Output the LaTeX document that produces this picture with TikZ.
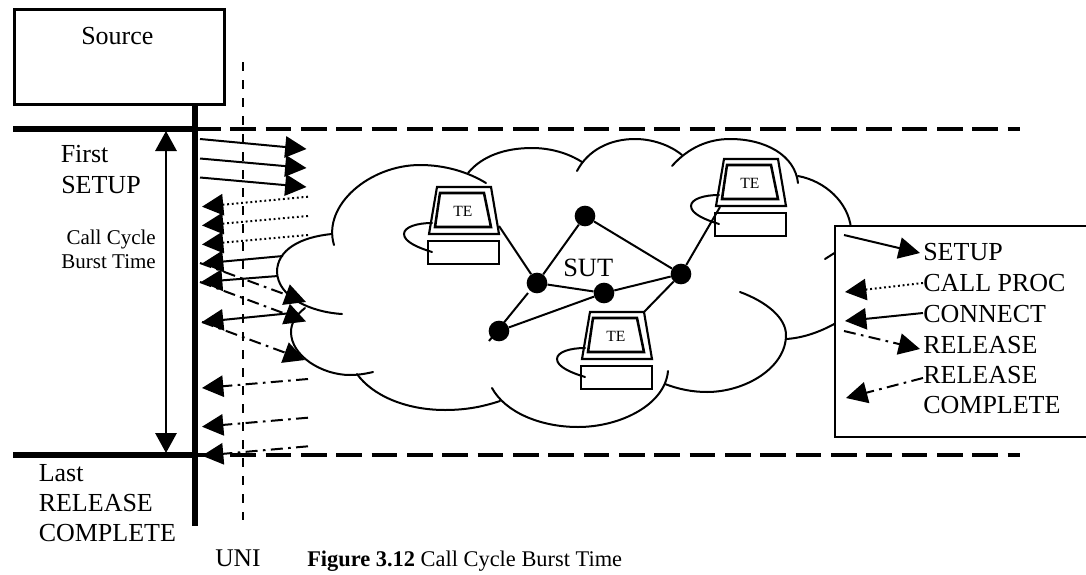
\documentclass[tikz,border=0pt]{standalone}
\usepackage{fontspec}
\setmainfont{Liberation Serif}
\usetikzlibrary{arrows.meta}
\newcommand{\px}[1]{\fontsize{#1}{#1}\selectfont}
\tikzset{
  x=.75pt,y=-.75pt,
  cloudline/.style={line width=1.5pt,line cap=round},
  netline/.style={line width=1.5pt},
  dot/.style={circle,fill=black,inner sep=0pt,minimum size=15.5pt},
  tip/.style={-{Triangle[length=16pt,width=16pt]}},
  sol/.style={line width=1.5pt,tip},
  dotl/.style={line width=1.5pt,tip,dash pattern=on 1.4pt off 2.1pt},
  dashdot/.style={line width=1.5pt,tip,dash pattern=on 9pt off 4pt on 2pt off 4pt},
  thickbar/.style={line width=4pt},
  dashbar/.style={line width=2.6pt,dash pattern=on 19.2pt off 7.3pt},
  uniline/.style={line width=1.8pt,dash pattern=on 7pt off 6.5pt},
  label/.style={anchor=base west,inner sep=0pt,font=\px{19.5}},
  tetext/.style={anchor=base west,inner sep=0pt,font=\px{11.7}},
  monitor/.pic={
    \draw[line width=1.6pt] (0,0) -- (54,0) -- (62,47) -- (-8,47) -- cycle;
    \draw[line width=1.9pt] (3,6) -- (47,6) -- (54,40) -- (-2,40) -- cycle;
    \draw[line width=1.6pt] (-9,54) rectangle (62,77);
    \draw[line width=1.5pt,line cap=round] (-5,36) .. controls (-20,36) and (-33,40) .. (-33,47) .. controls (-33,55) and (-18,61) .. (-5,65);
    \node[tetext] (-te) at (16,29) {TE};
  }
}
\newcommand{\arr}[4]{\coordinate (#2s) at (#3);\coordinate (#2e) at (#4);\draw[#1] (#2s) -- (#2e);}
\begin{document}
\begin{tikzpicture}
\useasboundingbox (0,0) rectangle (1086,575);

% cloud
\draw[cloudline] (342,314) .. controls (310,312) and (278,297) .. (277,272) .. controls (277,250) and (300,237) .. (332,234);
\draw[cloudline] (334,245) .. controls (322,205) and (370,165) .. (420,165) .. controls (445,165) and (468,172) .. (486,183);
\draw[cloudline] (468,173) .. controls (482,156) and (505,148) .. (532,148) .. controls (550,148) and (568,153) .. (582,162);
\draw[cloudline] (577,171) .. controls (588,150) and (610,139) .. (635,139) .. controls (652,139) and (670,145) .. (682,155);
\draw[cloudline] (672,166) .. controls (688,148) and (708,139) .. (730,139) .. controls (765,139) and (795,155) .. (798,183);
\draw[cloudline] (798,176) .. controls (825,181) and (848,202) .. (851,228);
\draw[cloudline] (825,259) -- (836,252);
\draw[cloudline] (836,323) .. controls (820,332) and (803,338) .. (786,339);
\draw[cloudline] (740,292) .. controls (767,302) and (786,318) .. (786,335) .. controls (786,368) and (745,392) .. (707,392) .. controls (692,392) and (678,389) .. (665,384);
\draw[cloudline] (668,371) .. controls (665,405) and (620,427) .. (578,427) .. controls (540,427) and (505,412) .. (492,388);
\draw[cloudline] (500,401) .. controls (482,407) and (465,410) .. (445,410) .. controls (405,410) and (372,395) .. (357,374);
\draw[cloudline] (373,372) .. controls (365,374) and (357,375) .. (350,375) .. controls (322,375) and (291,356) .. (291,332) .. controls (291,323) and (296,315) .. (305,308);

% source and timeline
\node[draw,line width=2.6pt,minimum width=157.5pt,minimum height=71pt,inner sep=0pt,anchor=north west] (source) at (13,8) {};
\node[label] (sourcetext) at (81,44) {Source};
\coordinate (vtop) at (source.south -| 195,0);
\coordinate (vbot) at (195,526);
\draw[line width=4pt] (vtop) -- (vbot);
\coordinate (tl) at (13,129); \coordinate (tm) at (195,129); \coordinate (tr) at (1020,129);
\coordinate (bl) at (13,455); \coordinate (bm) at (195,455); \coordinate (br) at (1020,455);
\draw[thickbar] (tl) -- (tm);
\draw[dashbar] (tm) -- (tr);
\draw[thickbar] (bl) -- (bm);
\draw[dashbar] (bm) -- (br);
\coordinate (unit) at (243,62); \coordinate (unib) at (243,520);
\draw[uniline] (unit) -- (unib);

% burst time arrow
\coordinate (ct) at (166,131); \coordinate (cb) at (166,453);
\draw[line width=1.5pt,{Triangle[length=15pt,width=16pt]}-{Triangle[length=15pt,width=16pt]}] (ct) -- (cb);

% message arrows
\arr{sol}{a1}{200,139}{306.5,149}
\arr{sol}{a2}{200,158.5}{306.5,168}
\arr{sol}{a3}{200,177.5}{306.5,187}
\arr{dotl}{b1}{308,196.7}{202,206.7}
\arr{dotl}{b2}{308,216}{202,225.5}
\arr{dotl}{b3}{308,235}{202,244.5}
\arr{sol}{c1}{283,256}{202,263.5}
\arr{sol}{c2}{278,276}{201,282}
\arr{dashdot}{d1}{200,263}{306,302}
\arr{dashdot}{d2}{200,282}{306,321.5}
\arr{sol}{c3}{292,313}{202,322}
\arr{dashdot}{d3}{202,322}{305,360}
\arr{dashdot}{e1}{308,379}{202,388}
\arr{dashdot}{e2}{308,417.7}{202,426.7}
\arr{dashdot}{e3}{308,446.3}{202,455.7}

% labels left
\node[label] (first) at (60.5,162) {First};
\node[label] (setup) at (61,193) {SETUP};
\node[anchor=base east,inner sep=0pt,font=\px{15.75}] (ccb) at (156,244) {Call Cycle};
\node[anchor=base east,inner sep=0pt,font=\px{15.75}] (bt) at (156,268) {Burst Time};
\node[label] (last) at (38.5,481) {Last};
\node[label] (rel) at (38.5,511) {RELEASE};
\node[label] (comp) at (38.5,541) {COMPLETE};
\node[label,font=\px{19.1}] (uni) at (215,566) {UNI};
\node[label,font=\px{16.8}] (caption) at (307,566) {\textbf{Figure 3.12} Call Cycle Burst Time};

% network
\node[dot] (n1) at (537,283) {};
\node[dot] (n2) at (585,216) {};
\node[dot] (n3) at (681,274) {};
\node[dot] (n4) at (604,293) {};
\node[dot] (n5) at (499,331) {};
\coordinate (n5tail) at (489,341);
\coordinate (n1gap) at (528,293);
\coordinate (c1t) at (499,226);
\coordinate (c2t) at (720,207);
\coordinate (c3t) at (644,312);
\draw[netline] (n1) -- (n2);
\draw[netline] (n2) -- (n3);
\draw[netline] (n1) -- (n4);
\draw[netline] (n4) -- (n3);
\draw[netline] (n4) -- (n5);
\draw[netline] (n5tail) -- (n1gap);
\draw[netline] (c1t) -- (n1);
\draw[netline] (c2t) -- (n3);
\draw[netline] (c3t) -- (n3);
\node[label,font=\px{19.8}] (sut) at (563,276) {SUT};

\pic (t1) at (437,187) {monitor};
\pic (t2) at (724,159) {monitor};
\pic (t3) at (590,312) {monitor};

% legend
\filldraw[fill=white,line width=2pt] (1087,226) -- (835,226) -- (835,437) -- (1087,437);
\node[label] (l1) at (923,260) {SETUP};
\node[label] (l2) at (923,291) {CALL PROC};
\node[label] (l3) at (923,322) {CONNECT};
\node[label] (l4) at (923,353) {RELEASE};
\node[label] (l5) at (923,383) {RELEASE};
\node[label] (l6) at (923,413) {COMPLETE};
\arr{sol}{f1}{844,235}{920,253}
\arr{dotl}{f2}{923,283}{845,292}
\arr{sol}{f3}{923,313}{845,321}
\arr{dashdot}{f4}{844,331}{920,349}
\arr{dashdot}{f5}{923,378}{846,398}
\end{tikzpicture}
\end{document}
